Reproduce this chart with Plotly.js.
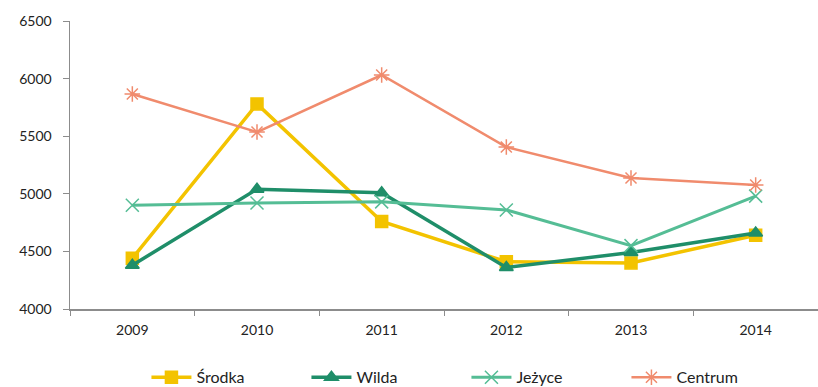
<!DOCTYPE html>
<html>
<head>
<meta charset="utf-8">
<script src="https://cdn.plot.ly/plotly-3.0.1.min.js"></script>
<style>
  html, body { margin: 0; padding: 0; background: #fff; }
  #chart { width: 818px; height: 387px; }
</style>
</head>
<body>
<div id="chart"></div>
<script>
// Years on the category axis
const years = ['2009', '2010', '2011', '2012', '2013', '2014'];

// Values per district
const srodka  = [4440, 5780, 4760, 4410, 4400, 4640];
const wilda   = [4380, 5040, 5010, 4360, 4490, 4660];
const jezyce  = [4900, 4920, 4930, 4860, 4550, 4980];
const centrum = [5866, 5536, 6031, 5406, 5137, 5076];

// Y-axis ticks
const yTicks = [4000, 4500, 5000, 5500, 6000, 6500];

const font = "Lato, 'Open Sans', sans-serif";

function series(name, y, color, symbol, width, msize) {
  return {
    type: 'scatter',
    mode: 'lines+markers',
    name: name,
    x: years,
    y: y,
    line: { color: color, width: width },
    marker: {
      symbol: symbol,
      size: msize,
      color: color,
      line: { color: color, width: 1.5 }
    },
    cliponaxis: false
  };
}

const data = [
  series('Środka', srodka, '#F3C300', 'square', 3.5, 12),
  series('Wilda', wilda, '#1F8E69', 'triangle-up', 3.5, 12),
  series('Jeżyce', jezyce, '#55BD95', 'x-thin-open', 3, 13),
  series('Centrum', centrum, '#F08B6D', 'asterisk-open', 2.5, 13)
];

const layout = {
  width: 818,
  height: 387,
  margin: { l: 70, r: 0, t: 21, b: 78 },
  paper_bgcolor: '#ffffff',
  plot_bgcolor: '#ffffff',
  font: { family: font, size: 14, color: '#222222' },
  showlegend: true,
  legend: {
    orientation: 'h',
    x: 0.53,
    xanchor: 'center',
    yref: 'container',
    y: 0.025,
    yanchor: 'middle',
    font: { family: font, size: 16, color: '#222222' },
    entrywidth: 105,
    entrywidthmode: 'pixels',
    itemwidth: 40,
    tracegroupgap: 0
  },
  xaxis: {
    type: 'category',
    range: [-0.5, 5.5],
    showgrid: false,
    zeroline: false,
    showline: true,
    linecolor: '#8c8c8c',
    linewidth: 1.5,
    ticks: 'outside',
    tickson: 'boundaries',
    ticklen: 5,
    tickcolor: '#8c8c8c',
    ticklabelstandoff: 8,
    tickfont: { family: font, size: 14, color: '#222222' },
    fixedrange: true
  },
  yaxis: {
    range: [4000, 6500],
    tickvals: yTicks,
    showgrid: false,
    zeroline: false,
    showline: true,
    linecolor: '#8c8c8c',
    linewidth: 1.5,
    ticks: 'outside',
    ticklen: 6,
    tickcolor: '#8c8c8c',
    ticklabelstandoff: 8,
    tickfont: { family: font, size: 14, color: '#222222' },
    fixedrange: true
  }
};

Plotly.newPlot('chart', data, layout, { staticPlot: true, displayModeBar: false });
</script>
</body>
</html>
